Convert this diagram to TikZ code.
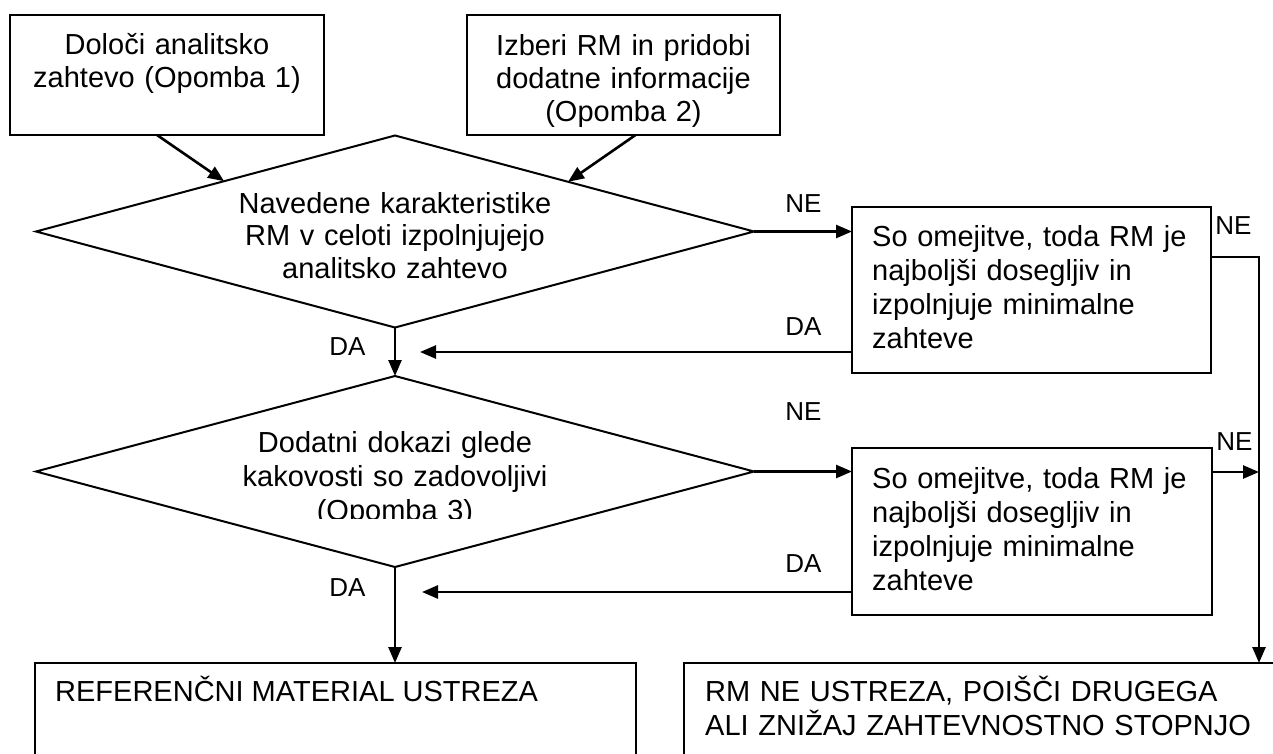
\documentclass[tikz,border=0pt]{standalone}
\usepackage{fontspec}
\setmainfont{Liberation Sans}
\usetikzlibrary{shapes.geometric,arrows.meta,calc}
\begin{document}
\begin{tikzpicture}[x=1pt,y=-1pt,
  box/.style={draw, line width=2pt, inner sep=0pt, outer sep=0pt},
  dia/.style={draw, diamond, line width=2pt, inner sep=0pt, outer sep=0pt},
  txt/.style={font=\fontsize{29}{33}\selectfont, inner sep=0pt, align=center},
  ltxt/.style={font=\fontsize{29}{34}\selectfont, inner sep=0pt, align=left, anchor=base west},
  lbl/.style={font=\fontsize{26}{30}\selectfont, inner sep=0pt, anchor=base},
  arr/.style={line width=2.6pt, -{Triangle[length=16pt,width=13pt]}},
  ln/.style={line width=2.6pt}]
\useasboundingbox (0,0) rectangle (1273,753);

% top boxes
\node[box, minimum width=314pt, minimum height=120pt] (A) at (167,75) {};
\node[txt, text width=300pt, anchor=base] (At) at (167,54) {Določi analitsko\\zahtevo (Opomba 1)};
\node[box, minimum width=313pt, minimum height=120pt] (B) at (623.5,75) {};
\node[txt, text width=300pt, anchor=base] (Bt) at (623.5,55) {Izberi RM in pridobi\\dodatne informacije\\(Opomba 2)};

% diamonds
\node[dia, minimum width=718pt, minimum height=192pt] (d1) at (395,231.5) {};
\node[txt, font=\fontsize{29}{32.5}\selectfont, text width=420pt, anchor=base] (d1t) at (395,213) {Navedene karakteristike\\RM v celoti izpolnjujejo\\analitsko zahtevo};
\node[dia, minimum width=718pt, minimum height=191pt] (d2) at (395,471.5) {};
\begin{scope}
\clip (0,0) rectangle (1273,518);
\node[txt, font=\fontsize{29}{34}\selectfont, text width=420pt, anchor=base] (d2t) at (395,452) {Dodatni dokazi glede\\kakovosti so zadovoljivi\\(Opomba 3)};
\end{scope}

% right boxes
\node[box, minimum width=359pt, minimum height=166pt] (R1) at (1031.5,290) {};
\node[ltxt, text width=335pt] (R1t) at (872,246) {So omejitve, toda RM je\\najboljši dosegljiv in\\izpolnjuje minimalne\\zahteve};
\node[box, minimum width=360pt, minimum height=167pt] (R2) at (1032,531.5) {};
\node[ltxt, text width=335pt] (R2t) at (872,488) {So omejitve, toda RM je\\najboljši dosegljiv in\\izpolnjuje minimalne\\zahteve};

% bottom boxes
\node[box, minimum width=601pt, minimum height=157pt] (L) at (335.5,741.5) {};
\node[ltxt] (Lt) at (55,701) {REFERENČNI MATERIAL USTREZA};
\node[box, minimum width=616pt, minimum height=157pt] (RB) at (992,741.5) {};
\node[ltxt, text width=560pt] (RBt) at (705,701) {RM NE USTREZA, POIŠČI DRUGEGA\\ALI ZNIŽAJ ZAHTEVNOSTNO STOPNJO};

% coordinates
\coordinate (f1) at (420,352);
\coordinate (f2) at (422,592);
\coordinate (c1) at (1259,257);
\coordinate (c2) at (1259,472);

% connectors
\draw[arr] ($(A.south)+(-10,0)$) -- ($(d1.north)!0.476!(d1.west)$);
\draw[arr] ($(B.south)+(12,0)$) -- ($(d1.north)!0.482!(d1.east)$);
\draw[arr] (d1.east) -- (d1.east -| R1.west);
\draw[arr] (f1 -| R1.west) -- (f1);
\draw[arr] (d1.south) -- (d2.north);
\draw[arr] (d2.east) -- (d2.east -| R2.west);
\draw[arr] (f2 -| R2.west) -- (f2);
\draw[arr] (d2.south) -- (d2.south |- L.north);
\draw[arr] (c1 -| R1.east) -- (c1) -- (c1 |- RB.north);
\draw[arr] (c2 -| R2.east) -- (c2);

% labels
\node[lbl] (da1) at (347.5,355) {DA};
\node[lbl] (da2) at (347.5,596) {DA};
\node[lbl] (ne1) at (803.5,212) {NE};
\node[lbl] (da3) at (803.5,335) {DA};
\node[lbl] (ne2) at (803.5,420) {NE};
\node[lbl] (da4) at (803.5,572) {DA};
\node[lbl] (ne3) at (1233.5,234) {NE};
\node[lbl] (ne4) at (1234.5,450) {NE};
\end{tikzpicture}
\end{document}
